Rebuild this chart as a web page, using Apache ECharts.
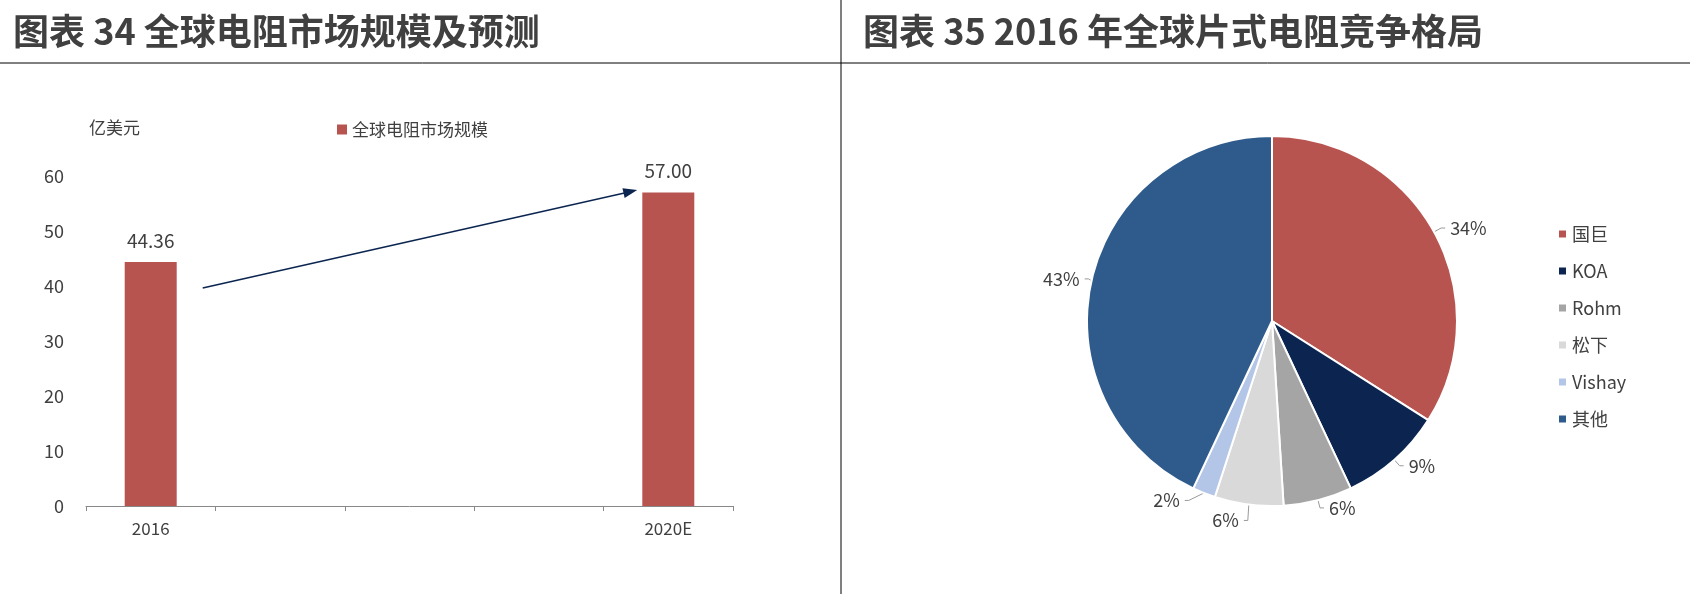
<!DOCTYPE html>
<html><head><meta charset="utf-8">
<script src="https://cdn.jsdelivr.net/npm/echarts@6/dist/echarts.min.js"></script>
<style>body{margin:0;background:#fff}#c{width:1690px;height:594px}</style>
</head><body><div id="c"></div>
<script>
const barCategories = ['2016','','','','2020E'];
const barValues = [44.36,null,null,null,57.00];
const barSeriesName = '全球电阻市场规模';
const pieNames = ['国巨','KOA','Rohm','松下','Vishay','其他'];
const pieValues = [34,9,6,6,2,43];
const pieColors = ['#B85450','#0B2550','#A5A5A5','#D9D9D9','#B4C6E7','#2F5B8C'];
const F = '"Noto Sans CJK SC","Noto Sans",sans-serif';
const chart = echarts.init(document.getElementById('c'));
const opt = {
  textStyle:{fontFamily:F},
  title:[
    {text:'图表 34 全球电阻市场规模及预测',left:8,top:8,textStyle:{fontSize:36,fontWeight:'bold',color:'#404040',fontFamily:F}},
    {text:'图表 35 2016 年全球片式电阻竞争格局',left:858,top:8,textStyle:{fontSize:36,fontWeight:'bold',color:'#404040',fontFamily:F}},
    {text:'亿美元',left:84,top:114,textStyle:{fontSize:17,fontWeight:'normal',color:'#404040',fontFamily:F}}
  ],
  legend:[
    {data:[barSeriesName],left:332,top:116,itemWidth:10,itemHeight:10,icon:'rect',textStyle:{fontSize:17,color:'#404040'}},
    {data:pieNames,orient:'vertical',left:1552,top:220,itemGap:19,itemWidth:9,itemHeight:9,icon:'rect',textStyle:{fontSize:18,color:'#404040'}}
  ],
  grid:{left:86,top:176,width:647,height:330},
  xAxis:{type:'category',data:barCategories,axisTick:{show:true,interval:0,alignWithLabel:false,lineStyle:{color:'#888'}},
    axisLine:{lineStyle:{color:'#888'}},axisLabel:{fontSize:17,color:'#404040',margin:14}},
  yAxis:{type:'value',min:0,max:60,interval:10,splitLine:{show:false},axisLine:{show:false},axisTick:{show:false},
    axisLabel:{fontSize:18,color:'#404040',margin:22}},
  series:[
    {type:'bar',name:barSeriesName,data:barValues,barWidth:52,itemStyle:{color:'#B85450'},
     label:{show:true,position:'top',fontSize:19,color:'#404040',distance:12,formatter:p=>p.value.toFixed(2)}},
    {type:'pie',name:'份额',center:[1272,321],radius:185,startAngle:90,clockwise:true,
     data:pieNames.map((n,i)=>({name:n,value:pieValues[i],itemStyle:{color:pieColors[i]}})),
     itemStyle:{borderColor:'#fff',borderWidth:2},
     label:{formatter:'{c}%',fontSize:18,color:'#404040'},labelLine:{length:8,length2:4,lineStyle:{color:'#999'}}}
  ]
};
chart.setOption(opt);
const p0 = chart.convertToPixel({xAxisIndex:0,yAxisIndex:0},[0,40]);
const p1 = chart.convertToPixel({xAxisIndex:0,yAxisIndex:0},[4,58]);
const x0 = p0[0]+52, x1 = p1[0]-35, y0 = p0[1]+2, y1 = p1[1]+4;
const ang = Math.atan2(y1-y0,x1-x0);
chart.setOption({graphic:[
  {type:'line',shape:{x1:0,y1:63,x2:1690,y2:63},style:{stroke:'#000',lineWidth:1}},
  {type:'line',shape:{x1:841,y1:0,x2:841,y2:594},style:{stroke:'#000',lineWidth:1}},
  {type:'line',shape:{x1:x0,y1:y0,x2:x1,y2:y1},style:{stroke:'#0B2550',lineWidth:1.5}},
  {type:'polygon',shape:{points:[[x1+4*Math.cos(ang),y1+4*Math.sin(ang)],
     [x1-10*Math.cos(ang)+5*Math.sin(ang),y1-10*Math.sin(ang)-5*Math.cos(ang)],
     [x1-10*Math.cos(ang)-5*Math.sin(ang),y1-10*Math.sin(ang)+5*Math.cos(ang)]]},style:{fill:'#0B2550'}}
]});
</script></body></html>
